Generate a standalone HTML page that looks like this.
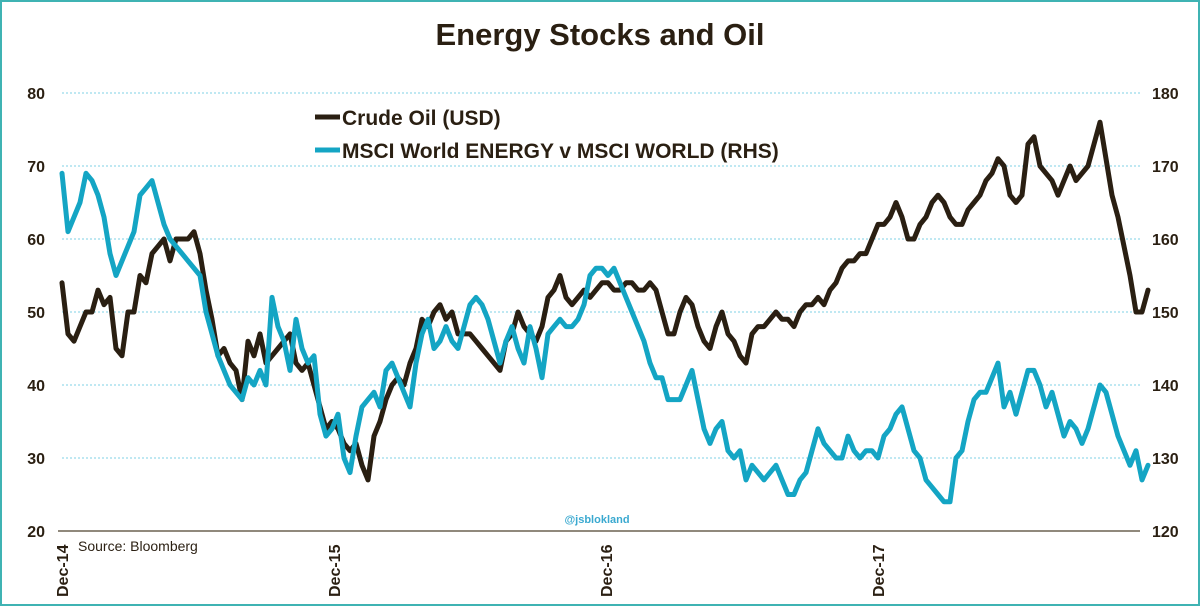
<!DOCTYPE html>
<html><head><meta charset="utf-8"><style>
html,body{margin:0;padding:0;background:#fff;}
#wrap{position:relative;width:1200px;height:606px;overflow:hidden;font-family:"Liberation Sans",sans-serif;}
</style></head><body>
<div id="wrap">
<svg id="chart" width="1200" height="606" viewBox="0 0 1200 606">
<rect x="1" y="1" width="1198" height="604" fill="#fff" stroke="#3fb3b3" stroke-width="2"/>
<text x="600" y="45" text-anchor="middle" font-size="31" font-weight="bold" fill="#2a1f12">Energy Stocks and Oil</text>
<g id="grid"></g>
<g id="yleft"></g>
<g id="yright"></g>
<g id="xaxis"></g>
<g id="series"></g>
<g>
<line x1="315" y1="117" x2="340" y2="117" stroke="#2a1f12" stroke-width="5"/>
<text x="342" y="125" font-size="21" font-weight="bold" fill="#2a1f12">Crude Oil (USD)</text>
<line x1="315" y1="150" x2="340" y2="150" stroke="#14a5c4" stroke-width="5"/>
<text x="342" y="158" font-size="21" font-weight="bold" fill="#2a1f12">MSCI World ENERGY v MSCI WORLD (RHS)</text>
</g>
<text x="78" y="551" font-size="14" fill="#2a1f12">Source: Bloomberg</text>
<text x="597" y="523" text-anchor="middle" font-size="11" font-weight="bold" fill="#3aa9d0">@jsblokland</text>
</svg>
</div>
<script>
const leftTicks = [20, 30, 40, 50, 60, 70, 80];
const rightTicks = [120, 130, 140, 150, 160, 170, 180];
const xLabels = ["Dec-14", "Dec-15", "Dec-16", "Dec-17"];
const xLabelYears = [0, 1, 2, 3];
const oil = [54,47,46,48,50,50,53,51,52,45,44,50,50,55,54,58,59,60,57,60,60,60,61,58,53,49,44,45,43,42,38,46,44,47,43,44,45,46,47,43,42,43,40,37,34,35,34,32,31,32,29,27,33,35,38,40,41,40,43,45,49,48,50,51,49,50,47,47,47,46,45,44,43,42,46,47,50,48,47,46,48,52,53,55,52,51,52,53,52,53,54,54,53,53,54,54,53,53,54,53,50,47,47,50,52,51,48,46,45,48,50,47,46,44,43,47,48,48,49,50,49,49,48,50,51,51,52,51,53,54,56,57,57,58,58,60,62,62,63,65,63,60,60,62,63,65,66,65,63,62,62,64,65,66,68,69,71,70,66,65,66,73,74,70,69,68,66,68,70,68,69,70,73,76,71,66,63,59,55,50,50,53];
const energy = [169,161,163,165,169,168,166,163,158,155,157,159,161,166,167,168,165,162,160,159,158,157,156,155,150,147,144,142,140,139,138,141,140,142,140,152,148,146,142,149,145,143,144,136,133,134,136,130,128,133,137,138,139,137,142,143,141,139,137,143,147,149,145,146,148,146,145,148,151,152,151,149,146,143,146,148,145,143,148,145,141,147,148,149,148,148,149,151,155,156,156,155,156,154,152,150,148,146,143,141,141,138,138,138,140,142,138,134,132,134,135,131,130,131,127,129,128,127,128,129,127,125,125,127,128,131,134,132,131,130,130,133,131,130,131,131,130,133,134,136,137,134,131,130,127,126,125,124,124,130,131,135,138,139,139,141,143,137,139,136,139,142,142,140,137,139,136,133,135,134,132,134,137,140,139,136,133,131,129,131,127,129];

const NS = "http://www.w3.org/2000/svg";
const X0 = 62, X1 = 1148, YT = 93, YB = 531, YEAR_PX = 272;
function yL(v){ return YB - (v - 20) / 60 * (YB - YT); }
function yR(v){ return YB - (v - 120) / 60 * (YB - YT); }
function xIdx(i, n){ return X0 + i / (n - 1) * (X1 - X0); }
function xYear(t){ return X0 + t * YEAR_PX; }
function mk(tag, attrs, parent){ const e = document.createElementNS(NS, tag); for (const k in attrs) e.setAttribute(k, attrs[k]); parent.appendChild(e); return e; }

const grid = document.getElementById('grid');
leftTicks.forEach(v => {
  if (v > 20) {
    const l = mk('line', {x1: 62, x2: 1140, y1: yL(v), y2: yL(v), stroke: '#7fd0e6', 'stroke-width': 1, 'stroke-dasharray': '2,2'}, grid);
    
    
  }
});
const axl = mk('line', {x1: 58, x2: 1140, y1: YB, y2: YB, stroke: '#6b6250', 'stroke-width': 1.5}, grid);



const yl = document.getElementById('yleft');
leftTicks.forEach(v => {
  const t = mk('text', {x: 45, y: yL(v) + 6, 'text-anchor': 'end', 'font-size': 16, 'font-weight': 'bold', fill: '#2a1f12'}, yl);
  t.textContent = v;
  
  
});
const yr = document.getElementById('yright');
rightTicks.forEach(v => {
  const t = mk('text', {x: 1152, y: yR(v) + 6, 'text-anchor': 'start', 'font-size': 16, 'font-weight': 'bold', fill: '#2a1f12'}, yr);
  t.textContent = v;
  
  
});
const xa = document.getElementById('xaxis');
xLabels.forEach((lab, i) => {
  const x = xYear(xLabelYears[i]);
  const t = mk('text', {x: 0, y: 0, transform: 'translate(' + (x + 6) + ',597) rotate(-90)', 'text-anchor': 'start', 'font-size': 16, 'font-weight': 'bold', fill: '#2a1f12'}, xa);
  t.textContent = lab;
  
  
});

const sg = document.getElementById('series');
function path(arr, yf, color, name){
  const d = arr.map((v, i) => (i ? 'L' : 'M') + xIdx(i, arr.length).toFixed(1) + ',' + yf(v).toFixed(1)).join('');
  const p = mk('path', {d: d, fill: 'none', stroke: color, 'stroke-width': 5, 'stroke-linejoin': 'round', 'stroke-linecap': 'round'}, sg);
  
  
}
path(oil, yL, '#2a1f12', 'crude-oil-line');
path(energy, yR, '#14a5c4', 'energy-relative-line');
</script>
</body></html>
